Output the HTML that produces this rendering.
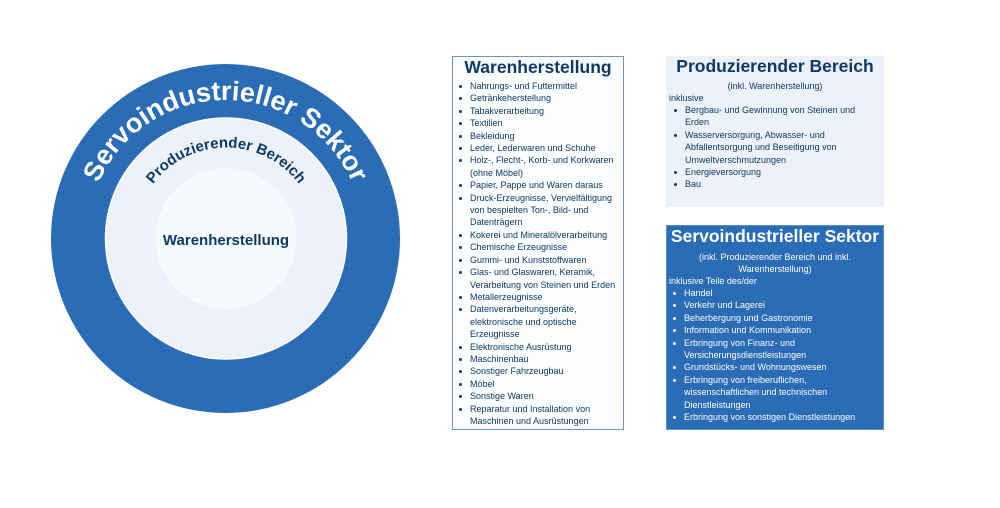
<!DOCTYPE html>
<html><head><meta charset="utf-8"><style>
*{margin:0;padding:0;box-sizing:border-box}
body{width:1000px;height:508px;background:#fff;position:relative;overflow:hidden;font-family:"Liberation Sans",sans-serif}
.box{position:absolute}
.t{position:absolute;white-space:nowrap;font-size:9px;line-height:12.4px}
.title{position:absolute;left:0;right:0;text-align:center;font-weight:bold;font-size:17.5px}
ul{position:absolute;list-style:none}
li{position:relative;font-size:9px;line-height:12.4px;padding-left:16px;white-space:nowrap}
li:before{content:"";position:absolute;left:5px;top:5px;width:3px;height:3px;border-radius:50%;background:currentColor}
</style></head><body>
<svg width="1000" height="508" style="position:absolute;left:0;top:0">
<defs>
<path id="oa" d="M 87 238.5 A 138.5 138.5 0 0 1 364 238.5"/>
<path id="ma" d="M 135 238.5 A 91 91 0 0 1 317 238.5"/>
</defs>
<circle cx="225.5" cy="238.5" r="174.5" fill="#2b6cb7"/>
<circle cx="226" cy="238.5" r="120.5" fill="#edf2fa" stroke="#fff" stroke-width="1.5"/>
<circle cx="226" cy="238.5" r="70.5" fill="#f7fafd"/>
<text font-family="Liberation Sans, sans-serif" font-weight="bold" font-size="27" fill="#fff" text-anchor="middle"><textPath href="#oa" startOffset="50%">Servoindustrieller Sektor</textPath></text>
<text font-family="Liberation Sans, sans-serif" font-weight="bold" font-size="15" fill="#0d3a64" text-anchor="middle"><textPath href="#ma" startOffset="50%">Produzierender Bereich</textPath></text>
<text x="226" y="245" font-family="Liberation Sans, sans-serif" font-weight="bold" font-size="15" fill="#0d3a64" text-anchor="middle">Warenherstellung</text>
</svg>

<div class="box" style="left:452px;top:56px;width:172px;height:374px;border:1px solid #6f93c0;background:#fbfdff;color:#0d3a64">
<div class="title" style="top:0px;color:#0d3a64">Warenherstellung</div>
<ul style="left:1px;top:23px">
<li>Nahrungs- und Futtermittel</li>
<li>Getränkeherstellung</li>
<li>Tabakverarbeitung</li>
<li>Textilien</li>
<li>Bekleidung</li>
<li>Leder, Lederwaren und Schuhe</li>
<li>Holz-, Flecht-, Korb- und Korkwaren<br>(ohne Möbel)</li>
<li>Papier, Pappe und Waren daraus</li>
<li>Druck-Erzeugnisse, Vervielfältigung<br>von bespielten Ton-, Bild- und<br>Datenträgern</li>
<li>Kokerei und Mineralölverarbeitung</li>
<li>Chemische Erzeugnisse</li>
<li>Gummi- und Kunststoffwaren</li>
<li>Glas- und Glaswaren, Keramik,<br>Verarbeitung von Steinen und Erden</li>
<li>Metallerzeugnisse</li>
<li>Datenverarbeitungsgeräte,<br>elektronische und optische<br>Erzeugnisse</li>
<li>Elektronische Ausrüstung</li>
<li>Maschinenbau</li>
<li>Sonstiger Fahrzeugbau</li>
<li>Möbel</li>
<li>Sonstige Waren</li>
<li>Reparatur und Installation von<br>Maschinen und Ausrüstungen</li>
</ul>
</div>

<div class="box" style="left:666px;top:56px;width:218px;height:151px;background:#edf2fa;color:#0d3a64">
<div class="title" style="top:0px">Produzierender Bereich</div>
<div class="t" style="left:0;right:0;text-align:center;top:24px">(inkl. Warenherstellung)</div>
<div class="t" style="left:3px;top:36px">inklusive</div>
<ul style="left:3px;top:48px">
<li>Bergbau- und Gewinnung von Steinen und<br>Erden</li>
<li>Wasserversorgung, Abwasser- und<br>Abfallentsorgung und Beseitigung von<br>Umweltverschmutzungen</li>
<li>Energieversorgung</li>
<li>Bau</li>
</ul>
</div>

<div class="box" style="left:666px;top:225px;width:218px;height:205px;background:#2b6cb7;color:#fff;border:1px solid #5a8cc8">
<div class="title" style="top:0px">Servoindustrieller Sektor</div>
<div class="t" style="left:0;right:0;text-align:center;top:25px">(inkl. Produzierender Bereich und inkl.<br>Warenherstellung)</div>
<div class="t" style="left:2px;top:49px">inklusive Teile des/der</div>
<ul style="left:1px;top:61px">
<li>Handel</li>
<li>Verkehr und Lagerei</li>
<li>Beherbergung und Gastronomie</li>
<li>Information und Kommunikation</li>
<li>Erbringung von Finanz- und<br>Versicherungsdienstleistungen</li>
<li>Grundstücks- und Wohnungswesen</li>
<li>Erbringung von freiberuflichen,<br>wissenschaftlichen und technischen<br>Dienstleistungen</li>
<li>Erbringung von sonstigen Dienstleistungen</li>
</ul>
</div>
</body></html>
